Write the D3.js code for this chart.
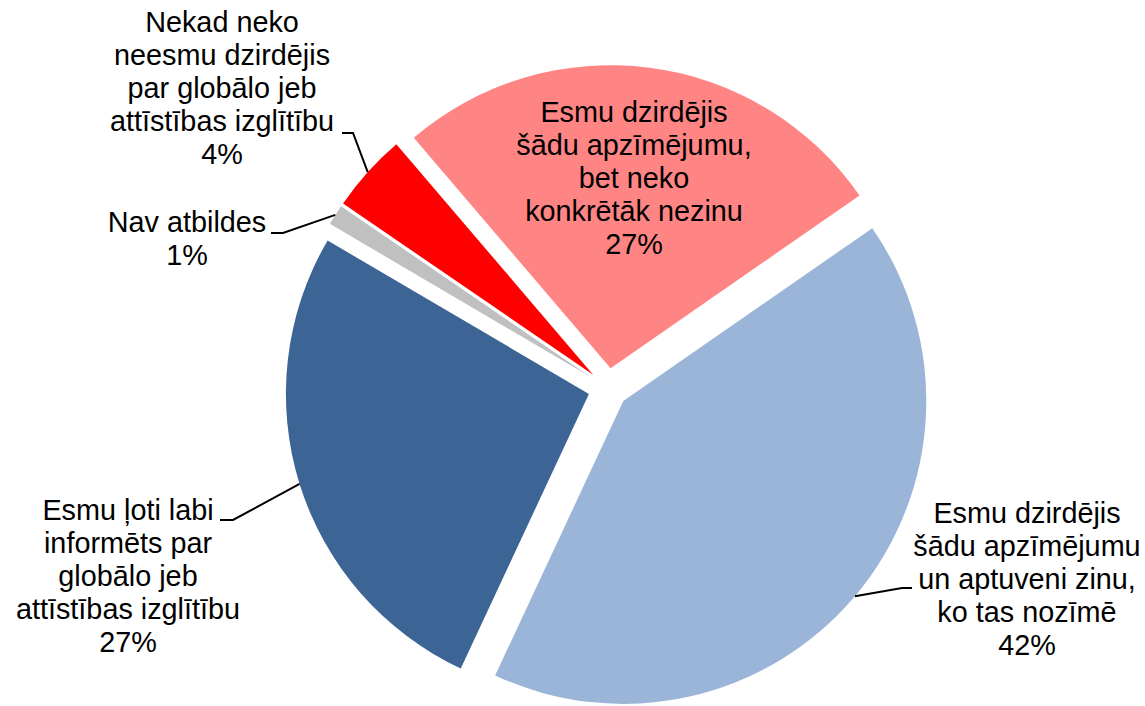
<!DOCTYPE html>
<html>
<head>
<meta charset="utf-8">
<script src="https://cdn.jsdelivr.net/npm/d3@7"></script>
<style>
   body { margin: 0; background: #fff; }
   text { font-family: "Liberation Sans", Arial, sans-serif; fill: #000; }
</style>
</head>
<body>
<div id="chart"></div>
<script>

// slice data, in drawing order (clockwise from the start angle)
var categories = [
   ["Esmu dzirdējis", "šādu apzīmējumu,", "bet neko", "konkrētāk nezinu"],
   ["Esmu dzirdējis", "šādu apzīmējumu", "un aptuveni zinu,", "ko tas nozīmē"],
   ["Esmu ļoti labi", "informēts par", "globālo jeb", "attīstības izglītību"],
   ["Nav atbildes"],
   ["Nekad neko", "neesmu dzirdējis", "par globālo jeb", "attīstības izglītību"]
]
var values = [26.6, 41.6, 26.5, 1.1, 4.2]
var colors = ["#FF8585", "#9AB5D8", "#3C6595", "#C0C0C0", "#FF0000"]

var width = 1145, height = 706
var cx = 608, cy = 388
var radius = 303
var explode = 20
var startAngle = -40.5 * Math.PI / 180
var fontSize = 28.8, lineHeight = 33

// label placement (text center x, first baseline y) and leader elbow points
var labelLayout = [
   { x: 634, y: 122, leader: null },
   { x: 1027, y: 523, leader: [[912, 588], [902, 588]] },
   { x: 128, y: 520, leader: [[220, 520], [233, 520]] },
   { x: 187, y: 232, leader: [[271, 233], [283, 233]] },
   { x: 222, y: 32, leader: [[342, 133], [353, 133]] }
]

var data = values.map(function (v, i) {
   return { value: v, lines: categories[i], color: colors[i], layout: labelLayout[i] }
})

var pie = d3.pie()
   .sort(null)
   .value(function (d) { return d.value })
   .startAngle(startAngle)
   .endAngle(startAngle + 2 * Math.PI)

var arc = d3.arc()
   .innerRadius(0)
   .outerRadius(radius)

var arcs = pie(data)

var svg = d3.select("#chart").append("svg")
   .attr("width", width)
   .attr("height", height)

svg.append("rect")
   .attr("width", width)
   .attr("height", height)
   .attr("fill", "#fff")

var g = svg.append("g")
   .attr("transform", "translate(" + cx + "," + cy + ")")

function offset(d) {
   var mid = (d.startAngle + d.endAngle) / 2
   return [explode * Math.sin(mid), -explode * Math.cos(mid)]
}

g.selectAll("path.slice")
   .data(arcs)
   .join("path")
   .attr("class", "slice")
   .attr("d", arc)
   .attr("fill", function (d) { return d.data.color })
   .attr("transform", function (d) {
      var o = offset(d)
      return "translate(" + o[0] + "," + o[1] + ")"
   })

// leader lines from the label elbow to the slice edge at its mid angle
svg.selectAll("polyline.leader")
   .data(arcs.filter(function (d) { return d.data.layout.leader }))
   .join("polyline")
   .attr("class", "leader")
   .attr("fill", "none")
   .attr("stroke", "#000")
   .attr("stroke-width", 2)
   .attr("points", function (d) {
      var mid = (d.startAngle + d.endAngle) / 2
      var o = offset(d)
      var px = cx + o[0] + radius * Math.sin(mid)
      var py = cy + o[1] - radius * Math.cos(mid)
      var pts = d.data.layout.leader.concat([[px, py]])
      return pts.map(function (p) { return p.join(",") }).join(" ")
   })

// labels
var labels = svg.selectAll("text.label")
   .data(arcs)
   .join("text")
   .attr("class", "label")
   .attr("text-anchor", "middle")
   .attr("font-size", fontSize)
   .attr("x", function (d) { return d.data.layout.x })
   .attr("y", function (d) { return d.data.layout.y })

labels.each(function (d) {
   var t = d3.select(this)
   var lines = d.data.lines.concat([Math.round(d.data.value) + "%"])
   lines.forEach(function (line, i) {
      t.append("tspan")
         .attr("x", d.data.layout.x)
         .attr("y", d.data.layout.y + i * lineHeight)
         .text(line)
   })
})

</script>
</body>
</html>
